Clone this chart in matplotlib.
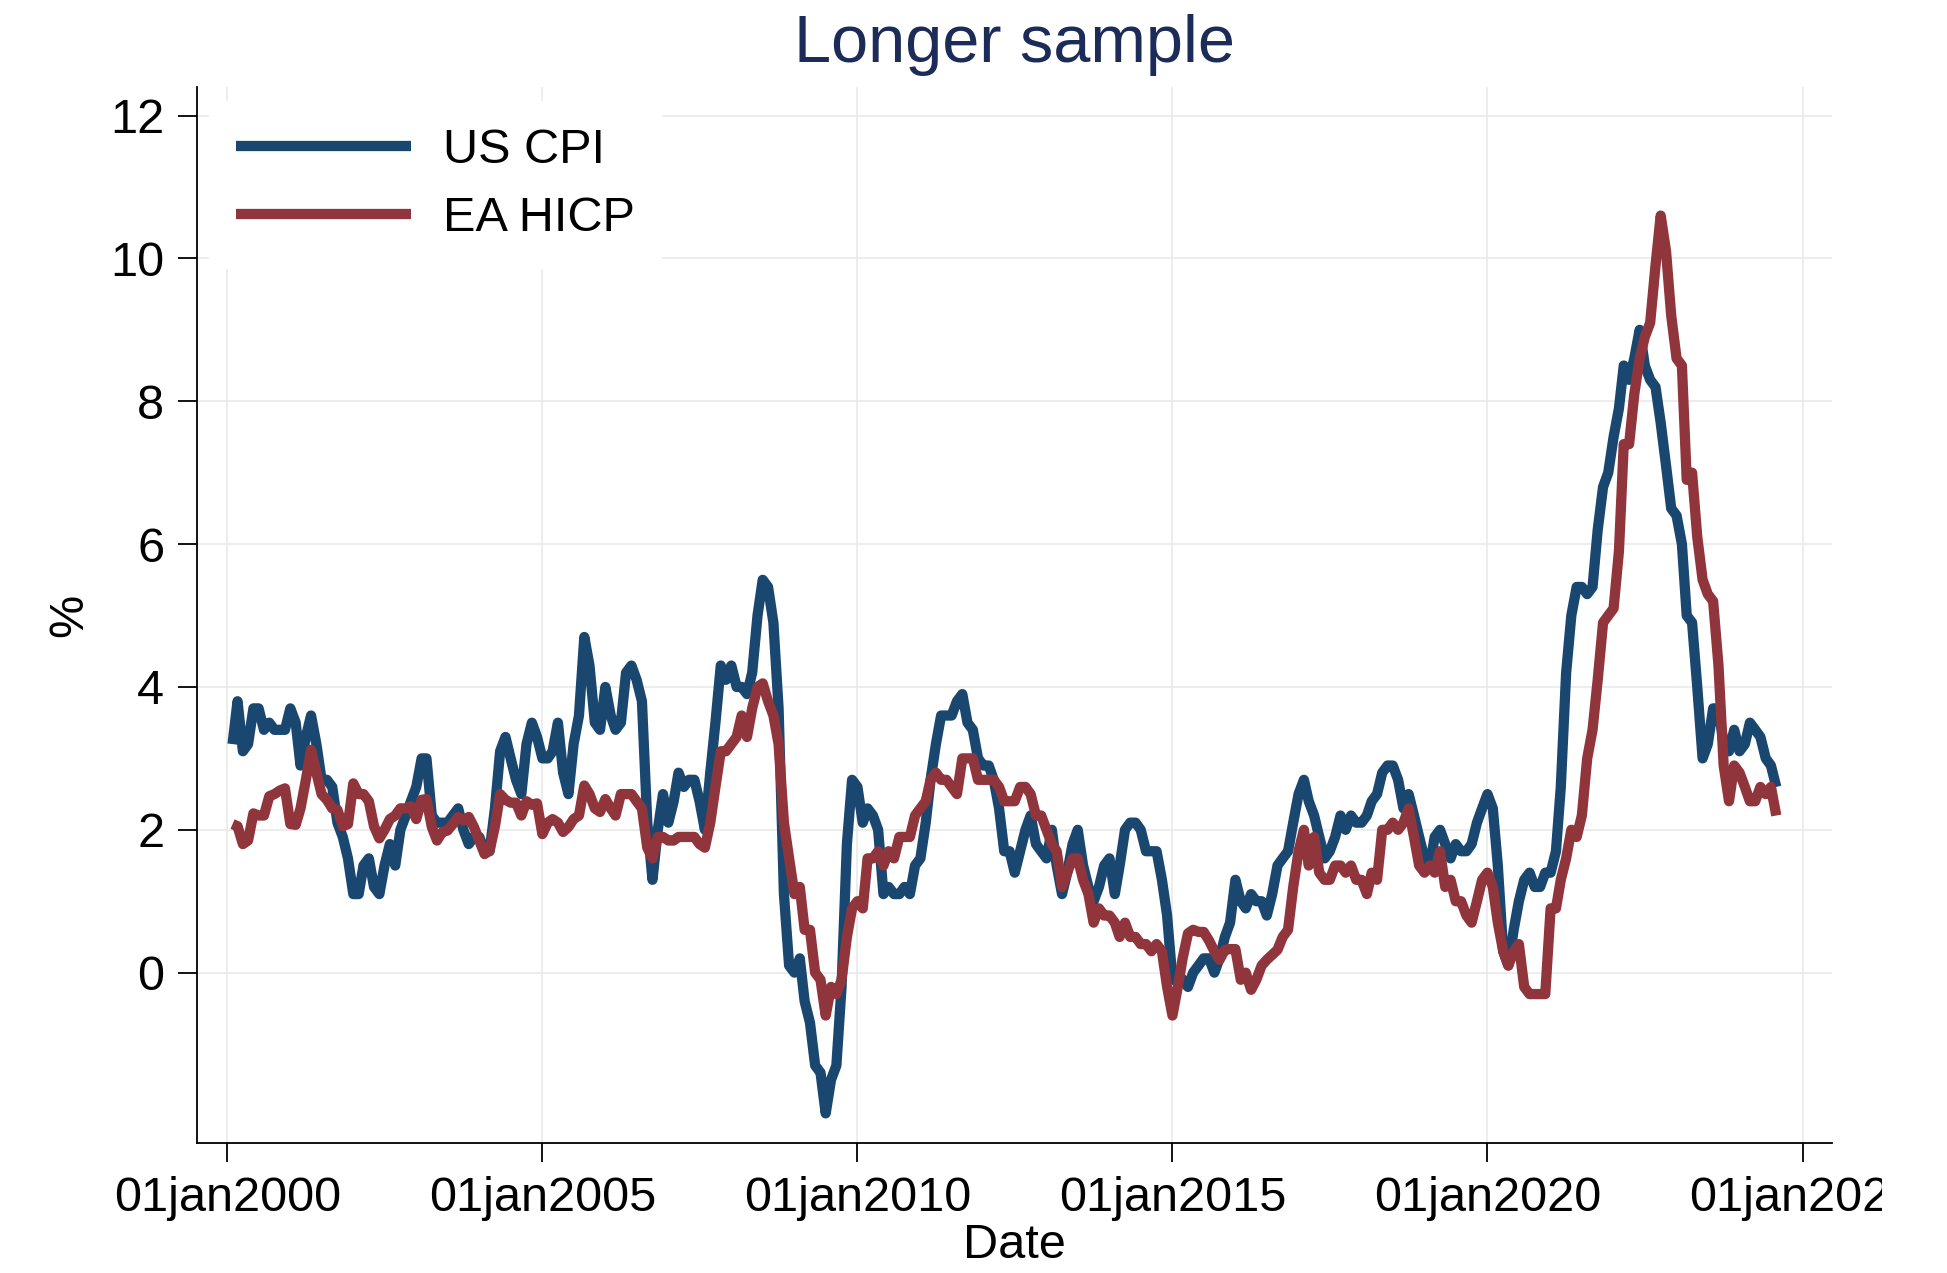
import matplotlib
matplotlib.use("Agg")
import matplotlib.pyplot as plt
from matplotlib.transforms import Bbox, TransformedBbox
import pandas as pd
import datetime as dt

plt.rcParams['font.family'] = ['Liberation Sans', 'DejaVu Sans']

# ---------------- data (monthly, Feb 2000 - Aug 2024, % y/y) ----------------
dates = pd.date_range('2000-02-01', '2024-08-01', freq='MS')

us_cpi = [
    3.2, 3.8, 3.1, 3.2, 3.7, 3.7, 3.4, 3.5, 3.4, 3.4, 3.4,            # 2000
    3.7, 3.5, 2.9, 3.3, 3.6, 3.2, 2.7, 2.7, 2.6, 2.1, 1.9, 1.6,       # 2001
    1.1, 1.1, 1.5, 1.6, 1.2, 1.1, 1.5, 1.8, 1.5, 2.0, 2.2, 2.4,       # 2002
    2.6, 3.0, 3.0, 2.2, 2.1, 2.1, 2.1, 2.2, 2.3, 2.0, 1.8, 1.9,       # 2003
    1.9, 1.7, 1.7, 2.3, 3.1, 3.3, 3.0, 2.7, 2.5, 3.2, 3.5, 3.3,       # 2004
    3.0, 3.0, 3.1, 3.5, 2.8, 2.5, 3.2, 3.6, 4.7, 4.3, 3.5, 3.4,       # 2005
    4.0, 3.6, 3.4, 3.5, 4.2, 4.3, 4.1, 3.8, 2.1, 1.3, 2.0, 2.5,       # 2006
    2.1, 2.4, 2.8, 2.6, 2.7, 2.7, 2.4, 2.0, 2.8, 3.5, 4.3, 4.1,       # 2007
    4.3, 4.0, 4.0, 3.9, 4.2, 5.0, 5.5, 5.4, 4.9, 3.7, 1.1, 0.1,       # 2008
    0.0, 0.2, -0.4, -0.7, -1.3, -1.4, -1.97, -1.5, -1.3, -0.2, 1.8, 2.7,  # 2009
    2.6, 2.1, 2.3, 2.2, 2.0, 1.1, 1.2, 1.1, 1.1, 1.2, 1.1, 1.5,       # 2010
    1.6, 2.1, 2.7, 3.2, 3.6, 3.6, 3.6, 3.8, 3.9, 3.5, 3.4, 3.0,       # 2011
    2.9, 2.9, 2.7, 2.3, 1.7, 1.7, 1.4, 1.7, 2.0, 2.2, 1.8, 1.7,       # 2012
    1.6, 2.0, 1.5, 1.1, 1.4, 1.8, 2.0, 1.5, 1.2, 1.0, 1.2, 1.5,       # 2013
    1.6, 1.1, 1.5, 2.0, 2.1, 2.1, 2.0, 1.7, 1.7, 1.7, 1.3, 0.8,       # 2014
    -0.1, 0.0, -0.1, -0.2, 0.0, 0.1, 0.2, 0.2, 0.0, 0.2, 0.5, 0.7,    # 2015
    1.3, 1.0, 0.9, 1.1, 1.0, 1.0, 0.8, 1.1, 1.5, 1.6, 1.7, 2.1,       # 2016
    2.5, 2.7, 2.4, 2.2, 1.9, 1.6, 1.7, 1.9, 2.2, 2.0, 2.2, 2.1,       # 2017
    2.1, 2.2, 2.4, 2.5, 2.8, 2.9, 2.9, 2.7, 2.3, 2.5, 2.2, 1.9,       # 2018
    1.6, 1.5, 1.9, 2.0, 1.8, 1.6, 1.8, 1.7, 1.7, 1.8, 2.1, 2.3,       # 2019
    2.5, 2.3, 1.5, 0.3, 0.1, 0.6, 1.0, 1.3, 1.4, 1.2, 1.2, 1.4,       # 2020
    1.4, 1.7, 2.6, 4.2, 5.0, 5.4, 5.4, 5.3, 5.4, 6.2, 6.8, 7.0,       # 2021
    7.5, 7.9, 8.5, 8.3, 8.6, 9.0, 8.5, 8.3, 8.2, 7.7, 7.1, 6.5,       # 2022
    6.4, 6.0, 5.0, 4.9, 4.0, 3.0, 3.2, 3.7, 3.7, 3.2, 3.1, 3.4,       # 2023
    3.1, 3.2, 3.5, 3.4, 3.3, 3.0, 2.9, 2.6,                           # 2024
]

ea_hicp = [
    2.08, 2.05, 1.8, 1.85, 2.23, 2.2, 2.2, 2.47, 2.5, 2.55, 2.58,     # 2000
    2.08, 2.07, 2.3, 2.7, 3.12, 2.8, 2.5, 2.42, 2.3, 2.28, 2.05, 2.08,  # 2001
    2.65, 2.5, 2.5, 2.4, 2.05, 1.88, 2.0, 2.15, 2.2, 2.3, 2.3, 2.33,  # 2002
    2.15, 2.42, 2.43, 2.04, 1.85, 1.97, 1.99, 2.08, 2.18, 2.13, 2.18, 2.04,  # 2003
    1.85, 1.66, 1.71, 2.05, 2.5, 2.42, 2.38, 2.38, 2.2, 2.4, 2.35, 2.37,    # 2004
    1.94, 2.1, 2.15, 2.1, 1.97, 2.04, 2.15, 2.2, 2.62, 2.5, 2.3, 2.25,      # 2005
    2.43, 2.3, 2.2, 2.5, 2.5, 2.5, 2.4, 2.3, 1.75, 1.6, 1.9, 1.9,     # 2006
    1.85, 1.85, 1.9, 1.9, 1.9, 1.9, 1.8, 1.75, 2.1, 2.6, 3.1, 3.1,    # 2007
    3.2, 3.3, 3.6, 3.3, 3.7, 4.0, 4.05, 3.8, 3.6, 3.2, 2.1, 1.6,      # 2008
    1.1, 1.2, 0.6, 0.6, 0.0, -0.1, -0.6, -0.2, -0.3, -0.1, 0.5, 0.9,  # 2009
    1.0, 0.9, 1.6, 1.6, 1.7, 1.5, 1.7, 1.6, 1.9, 1.9, 1.9, 2.2,       # 2010
    2.3, 2.4, 2.7, 2.8, 2.7, 2.7, 2.6, 2.5, 3.0, 3.0, 3.0, 2.7,       # 2011
    2.7, 2.7, 2.7, 2.6, 2.4, 2.4, 2.4, 2.6, 2.6, 2.5, 2.2, 2.2,       # 2012
    2.0, 1.8, 1.7, 1.2, 1.4, 1.6, 1.6, 1.3, 1.1, 0.7, 0.9, 0.8,       # 2013
    0.8, 0.7, 0.5, 0.7, 0.5, 0.5, 0.4, 0.4, 0.3, 0.4, 0.3, -0.2,      # 2014
    -0.6, -0.2, 0.2, 0.55, 0.6, 0.57, 0.57, 0.45, 0.3, 0.18, 0.32, 0.33,  # 2015
    0.33, -0.1, 0.0, -0.24, -0.1, 0.1, 0.18, 0.25, 0.32, 0.5, 0.6, 1.2,   # 2016
    1.7, 2.0, 1.5, 1.9, 1.4, 1.3, 1.3, 1.5, 1.5, 1.4, 1.5, 1.3,       # 2017
    1.3, 1.1, 1.4, 1.3, 2.0, 2.0, 2.1, 2.0, 2.1, 2.3, 1.9, 1.5,       # 2018
    1.4, 1.5, 1.4, 1.7, 1.2, 1.3, 1.0, 1.0, 0.8, 0.7, 1.0, 1.3,       # 2019
    1.4, 1.2, 0.7, 0.3, 0.1, 0.3, 0.4, -0.2, -0.3, -0.3, -0.3, -0.3,  # 2020
    0.9, 0.9, 1.3, 1.6, 2.0, 1.9, 2.2, 3.0, 3.4, 4.1, 4.9, 5.0,       # 2021
    5.1, 5.9, 7.4, 7.4, 8.1, 8.6, 8.9, 9.1, 9.9, 10.6, 10.1, 9.2,     # 2022
    8.6, 8.5, 6.9, 7.0, 6.1, 5.5, 5.3, 5.2, 4.3, 2.9, 2.4, 2.9,       # 2023
    2.8, 2.6, 2.4, 2.4, 2.6, 2.5, 2.6, 2.2,                           # 2024
]

series_labels = ['US CPI', 'EA HICP']
series_colors = ['#1a476f', '#90353b']
y_ticks = [0, 2, 4, 6, 8, 10, 12]
x_tick_years = [2000, 2005, 2010, 2015, 2020, 2025]
x_tick_labels = ['01jan%d' % y for y in x_tick_years]
title = 'Longer sample'
x_title = 'Date'
y_title = '%'

# ---------------- figure ----------------
W, H = 1947, 1273
fig = plt.figure(figsize=(W / 100, H / 100), dpi=100)
ax = fig.add_axes([197 / W, 1 - 1143 / H, (1832 - 197) / W, (1143 - 87) / H])

LW = 7.4
for vals, lab, col in zip([us_cpi, ea_hicp], series_labels, series_colors):
    ax.plot(dates, vals, color=col, lw=LW, label=lab,
            solid_joinstyle='round', solid_capstyle='butt', zorder=3)

ax.set_xlim(dt.datetime(1999, 7, 10), dt.datetime(2025, 6, 20))
ax.set_ylim(-2.385, 12.40)

ax.set_xticks([dt.datetime(y, 1, 1) for y in x_tick_years])
ax.set_xticklabels(x_tick_labels)
ax.set_yticks(y_ticks)
ax.set_yticklabels([str(v) for v in y_ticks])

ax.grid(True, color='#e8e8e8', lw=1.1, zorder=0)
ax.set_axisbelow(True)
for s in ['top', 'right']:
    ax.spines[s].set_visible(False)
for s in ['left', 'bottom']:
    ax.spines[s].set_linewidth(1.3)
    ax.spines[s].set_color('black')

ax.tick_params(axis='both', direction='out', length=13.5, width=1.3,
               labelsize=35, colors='black', pad=10)

ax.set_title(title, fontsize=48, color='#1c2b57', pad=18)
ax.set_xlabel(x_title, fontsize=35)
ax.set_ylabel(y_title, fontsize=35)
ax.xaxis.set_label_coords(0.5, -0.076)
ax.yaxis.set_label_coords(-0.064, 0.5)

leg = ax.legend(loc='upper left', bbox_to_anchor=(12 / 1635, 1 - 14 / 1056),
                fontsize=35, frameon=True, fancybox=False, borderpad=0.55,
                handlelength=3.6, handletextpad=0.66, labelspacing=0.48,
                borderaxespad=0)
leg.get_frame().set_facecolor('white')
leg.get_frame().set_edgecolor('white')
leg.get_frame().set_alpha(1)
for ln in leg.get_lines():
    ln.set_linewidth(LW)

# Clip x tick labels at the right edge of the graph region (as in the original)
clip = TransformedBbox(Bbox([[0, 0], [1882 / W, 1]]), fig.transFigure)
for lbl in ax.get_xticklabels():
    lbl.set_clip_box(clip)
    lbl.set_clip_on(True)

fig.savefig('out.png', dpi=100, facecolor='white')
